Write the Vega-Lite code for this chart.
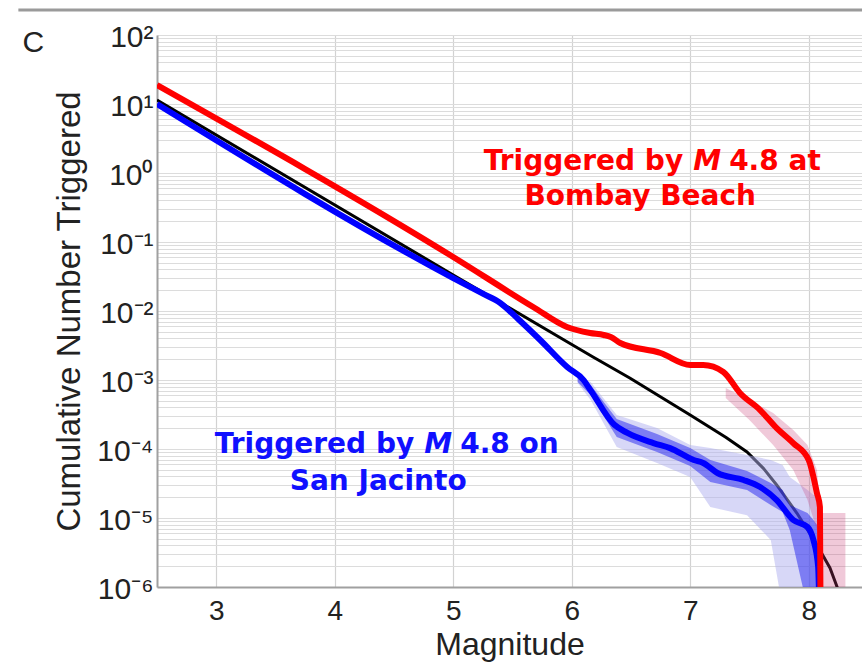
{
  "$schema": "https://vega.github.io/schema/vega-lite/v6.json",
  "width": 705,
  "height": 552,
  "autosize": {"type": "none"},
  "padding": {"left": 157, "top": 35, "right": 0, "bottom": 76},
  "background": "white",
  "config": {
    "view": {"stroke": null},
    "font": "Liberation Sans"
  },
  "datasets": {
    "frame": [{"x": 1.33, "x2": 8.5, "y": 230}],
    "panel": [{"m": 1.456, "n": 56.8, "text": "C"}],
    "black": [
      {"m": 2.5, "n": 11.4}, {"m": 5.0, "n": 0.0333}, {"m": 5.9, "n": 0.00413}, {"m": 6.18, "n": 0.00215}, {"m": 6.49, "n": 0.00107},
      {"m": 7.0, "n": 0.000311}, {"m": 7.3, "n": 0.000148}, {"m": 7.48, "n": 0.0000906}, {"m": 7.62, "n": 0.0000520}, {"m": 7.73, "n": 0.0000301}, {"m": 7.9, "n": 0.0000118},
      {"m": 8.07, "n": 0.00000406}, {"m": 8.18, "n": 0.00000188}, {"m": 8.24, "n": 0.000001}, {"m": 8.26, "n": 0.0000007}
    ],
    "red": [
      {"m": 2.5, "n": 18.84}, {"m": 5.0, "n": 0.0607}, {"m": 5.675, "n": 0.01143},
      {"m": 5.96, "n": 0.00586}, {"m": 6.156, "n": 0.0048}, {"m": 6.27, "n": 0.00449}, {"m": 6.33, "n": 0.0042},
      {"m": 6.41, "n": 0.00344}, {"m": 6.75, "n": 0.00246}, {"m": 7.0, "n": 0.00165}, {"m": 7.11, "n": 0.00165},
      {"m": 7.28, "n": 0.00131}, {"m": 7.42, "n": 0.000649}, {"m": 7.59, "n": 0.000367}, {"m": 7.73, "n": 0.000201},
      {"m": 7.87, "n": 0.000122}, {"m": 8.0, "n": 0.0000693}, {"m": 8.07, "n": 0.000023}, {"m": 8.095, "n": 0.0000144},
      {"m": 8.1, "n": 0.0000005}
    ],
    "blue": [
      {"m": 2.5, "n": 10.0}, {"m": 5.0, "n": 0.030}, {"m": 5.25, "n": 0.0178}, {"m": 5.397, "n": 0.01306},
      {"m": 5.55, "n": 0.0076}, {"m": 5.734, "n": 0.0038}, {"m": 5.962, "n": 0.00154}, {"m": 6.1, "n": 0.001},
      {"m": 6.16, "n": 0.000708}, {"m": 6.36, "n": 0.000224}, {"m": 6.47, "n": 0.000171}, {"m": 6.69, "n": 0.000122},
      {"m": 6.83, "n": 0.000103}, {"m": 7.03, "n": 0.0000693}, {"m": 7.11, "n": 0.0000627}, {"m": 7.23, "n": 0.0000449},
      {"m": 7.45, "n": 0.0000356}, {"m": 7.59, "n": 0.0000281}, {"m": 7.73, "n": 0.0000182}, {"m": 7.87, "n": 0.00000935},
      {"m": 7.99, "n": 0.00000741}, {"m": 8.04, "n": 0.0000048}, {"m": 8.08, "n": 0.00000195}, {"m": 8.09, "n": 0.0000005}
    ],
    "blueband": [
      {"m": 6.05, "lo2": 0.000906, "lo1": 0.000935, "hi1": 0.00107, "hi2": 0.0011},
      {"m": 6.16, "lo2": 0.000513, "lo1": 0.000607, "hi1": 0.000847, "hi2": 0.000935},
      {"m": 6.38, "lo2": 0.000107, "lo1": 0.000149, "hi1": 0.000272, "hi2": 0.000311},
      {"m": 6.72, "lo2": 0.0000627, "lo1": 0.0000906, "hi1": 0.000165, "hi2": 0.000201},
      {"m": 7.0, "lo2": 0.0000393, "lo1": 0.0000568, "hi1": 0.000103, "hi2": 0.000114},
      {"m": 7.17, "lo2": 0.0000144, "lo1": 0.0000333, "hi1": 0.0000693, "hi2": 0.000103},
      {"m": 7.48, "lo2": 0.000011, "lo1": 0.0000255, "hi1": 0.000048, "hi2": 0.0000818},
      {"m": 7.68, "lo2": 0.0000048, "lo1": 0.0000154, "hi1": 0.0000321, "hi2": 0.0000693},
      {"m": 7.78, "lo2": 0.0000005, "lo1": 0.0000122, "hi1": 0.0000255, "hi2": 0.0000586},
      {"m": 7.84, "lo2": 0.0000005, "lo1": 0.0000067, "hi1": 0.0000154, "hi2": 0.0000393},
      {"m": 7.99, "lo2": 0.0000005, "lo1": 0.0000005, "hi1": 0.0000118, "hi2": 0.0000255},
      {"m": 8.04, "lo2": 0.0000005, "lo1": 0.0000005, "hi1": 0.00000935, "hi2": 0.0000215},
      {"m": 8.07, "lo2": 0.0000005, "lo1": 0.0000005, "hi1": 0.000008, "hi2": 0.0000215},
      {"m": 8.08, "lo2": 0.0000005, "lo1": 0.0000005, "hi1": 0.0000005, "hi2": 0.0000005}
    ],
    "redband": [
      {"m": 7.3, "lo": 0.000548, "hi": 0.000766},
      {"m": 7.5, "lo": 0.000263, "hi": 0.000513},
      {"m": 7.7, "lo": 0.000114, "hi": 0.000333},
      {"m": 7.87, "lo": 0.0000496, "hi": 0.000188},
      {"m": 7.99, "lo": 0.0000182, "hi": 0.000114},
      {"m": 8.07, "lo": 0.0000067, "hi": 0.0000496},
      {"m": 8.1, "lo": 0.0000005, "hi": 0.0000118},
      {"m": 8.31, "lo": 0.0000005, "hi": 0.0000118}
    ],
    "notes": [
      {"series": "red", "part": "left", "text": "Triggered by", "m": 7.143, "n": 1.1},
      {"series": "red", "part": "mid", "text": "M", "m": 7.143, "n": 1.1},
      {"series": "red", "part": "right", "text": "4.8 at", "m": 7.143, "n": 1.1},
      {"series": "red", "part": "line2", "text": "Bombay Beach", "m": 6.578, "n": 0.344},
      {"series": "blue", "part": "left", "text": "Triggered by", "m": 4.873, "n": 0.0000875},
      {"series": "blue", "part": "mid", "text": "M", "m": 4.873, "n": 0.0000875},
      {"series": "blue", "part": "right", "text": "4.8 on", "m": 4.873, "n": 0.0000875},
      {"series": "blue", "part": "line2", "text": "San Jacinto", "m": 4.367, "n": 0.0000255}
    ]
  },
  "layer": [
    {
      "data": {"name": "black"},
      "mark": {"type": "line", "color": "#000000", "strokeWidth": 3, "strokeJoin": "round", "clip": true},
      "encoding": {
        "x": {"field": "m", "type": "quantitative", "scale": {"domain": [2.5, 8.45], "nice": false, "zero": false},
          "axis": {"values": [3, 4, 5, 6, 7, 8], "format": "d", "title": "Magnitude", "titleFontSize": 32, "titleFontWeight": "normal", "titleColor": "#222", "titlePadding": 4,
            "labelFontSize": 28, "labelColor": "#222", "labelPadding": 10, "ticks": false, "grid": true, "gridColor": "#d2d2d2", "gridWidth": 1.2,
            "domainColor": "#a0a0a0", "domainWidth": 2, "labelFlush": false}},
        "y": {"field": "n", "type": "quantitative", "scale": {"type": "log", "domain": [0.000001, 100], "nice": false},
          "axis": {"values": [0.000001,0.000002,0.000003,0.000004,0.000005,0.000006,0.000007,0.000008,0.000009,
                              0.00001,0.00002,0.00003,0.00004,0.00005,0.00006,0.00007,0.00008,0.00009,
                              0.0001,0.0002,0.0003,0.0004,0.0005,0.0006,0.0007,0.0008,0.0009,
                              0.001,0.002,0.003,0.004,0.005,0.006,0.007,0.008,0.009,
                              0.01,0.02,0.03,0.04,0.05,0.06,0.07,0.08,0.09,
                              0.1,0.2,0.3,0.4,0.5,0.6,0.7,0.8,0.9,
                              1,2,3,4,5,6,7,8,9,10,20,30,40,50,60,70,80,90,100],
            "labelExpr": "abs(log(datum.value)/LN10 - round(log(datum.value)/LN10)) < 0.01 ? '10' + ['⁻⁶','⁻⁵','⁻⁴','⁻³','⁻²','⁻¹','⁰','¹','²'][round(log(datum.value)/LN10)+6] : ''",
            "labelOverlap": false, "labelBound": false, "labelFlush": false,
            "title": "Cumulative Number  Triggered", "titleFontSize": 33, "titleFontWeight": "normal", "titleColor": "#222", "titlePadding": 10,
            "labelFontSize": 30, "labelColor": "#222", "labelPadding": 4, "labelBaseline": "middle", "labelOffset": 2, "ticks": false,
            "grid": true, "gridColor": "#dcdcdc", "gridWidth": 1.2, "domainColor": "#a0a0a0", "domainWidth": 2}}
      }
    },
    {
      "data": {"name": "frame"},
      "mark": {"type": "rule", "color": "#9a9a9a", "strokeWidth": 3, "clip": false},
      "encoding": {
        "x": {"field": "x", "type": "quantitative"},
        "x2": {"field": "x2"},
        "y": {"field": "y", "type": "quantitative"}
      }
    },
    {
      "data": {"name": "panel"},
      "mark": {"type": "text", "align": "center", "baseline": "alphabetic", "fontSize": 30, "font": "Liberation Sans", "color": "#222", "clip": false},
      "encoding": {
        "x": {"field": "m", "type": "quantitative"},
        "y": {"field": "n", "type": "quantitative"},
        "text": {"field": "text"}
      }
    },
    {
      "data": {"name": "blueband"},
      "mark": {"type": "area", "color": "#b0b0f0", "opacity": 0.5, "clip": true},
      "encoding": {
        "x": {"field": "m", "type": "quantitative"},
        "y": {"field": "hi2", "type": "quantitative"},
        "y2": {"field": "lo2"}
      }
    },
    {
      "data": {"name": "blueband"},
      "mark": {"type": "area", "color": "#0000ee", "opacity": 0.42, "clip": true},
      "encoding": {
        "x": {"field": "m", "type": "quantitative"},
        "y": {"field": "hi1", "type": "quantitative"},
        "y2": {"field": "lo1"}
      }
    },
    {
      "data": {"name": "redband"},
      "mark": {"type": "area", "color": "#c83c78", "opacity": 0.28, "clip": true},
      "encoding": {
        "x": {"field": "m", "type": "quantitative"},
        "y": {"field": "hi", "type": "quantitative"},
        "y2": {"field": "lo"}
      }
    },
    {
      "data": {"name": "blue"},
      "mark": {"type": "line", "color": "#0000ff", "strokeWidth": 6, "strokeJoin": "round", "interpolate": "monotone", "clip": true},
      "encoding": {
        "x": {"field": "m", "type": "quantitative"},
        "y": {"field": "n", "type": "quantitative"}
      }
    },
    {
      "data": {"name": "red"},
      "mark": {"type": "line", "color": "#ff0000", "strokeWidth": 6, "strokeJoin": "round", "interpolate": "monotone", "clip": true},
      "encoding": {
        "x": {"field": "m", "type": "quantitative"},
        "y": {"field": "n", "type": "quantitative"}
      }
    },
    {
      "data": {"name": "notes"},
      "transform": [{"filter": "datum.part === 'left'"}],
      "mark": {"type": "text", "align": "right", "baseline": "alphabetic", "dx": -24, "font": "DejaVu Sans", "fontWeight": "bold", "fontSize": 28},
      "encoding": {
        "x": {"field": "m", "type": "quantitative"},
        "y": {"field": "n", "type": "quantitative"},
        "text": {"field": "text"},
        "color": {"field": "series", "type": "nominal", "scale": {"domain": ["red", "blue"], "range": ["#ff0000", "#1010ff"]}, "legend": null}
      }
    },
    {
      "data": {"name": "notes"},
      "transform": [{"filter": "datum.part === 'mid'"}],
      "mark": {"type": "text", "align": "center", "baseline": "alphabetic", "font": "DejaVu Sans", "fontWeight": "bold", "fontStyle": "italic", "fontSize": 28},
      "encoding": {
        "x": {"field": "m", "type": "quantitative"},
        "y": {"field": "n", "type": "quantitative"},
        "text": {"field": "text"},
        "color": {"field": "series", "type": "nominal", "legend": null}
      }
    },
    {
      "data": {"name": "notes"},
      "transform": [{"filter": "datum.part === 'right'"}],
      "mark": {"type": "text", "align": "left", "baseline": "alphabetic", "dx": 22, "font": "DejaVu Sans", "fontWeight": "bold", "fontSize": 28},
      "encoding": {
        "x": {"field": "m", "type": "quantitative"},
        "y": {"field": "n", "type": "quantitative"},
        "text": {"field": "text"},
        "color": {"field": "series", "type": "nominal", "legend": null}
      }
    },
    {
      "data": {"name": "notes"},
      "transform": [{"filter": "datum.part === 'line2'"}],
      "mark": {"type": "text", "align": "center", "baseline": "alphabetic", "font": "DejaVu Sans", "fontWeight": "bold", "fontSize": 28},
      "encoding": {
        "x": {"field": "m", "type": "quantitative"},
        "y": {"field": "n", "type": "quantitative"},
        "text": {"field": "text"},
        "color": {"field": "series", "type": "nominal", "legend": null}
      }
    }
  ]
}
